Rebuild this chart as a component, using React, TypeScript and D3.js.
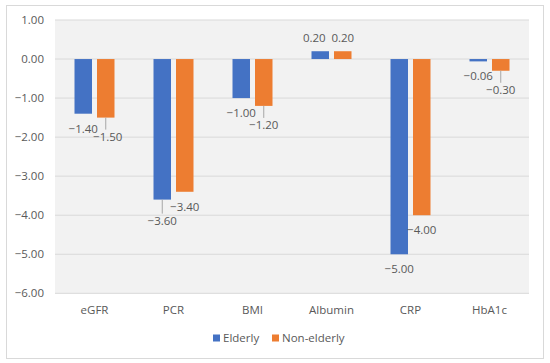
import * as d3 from "d3";

const categories = ["eGFR", "PCR", "BMI", "Albumin", "CRP", "HbA1c"];
const seriesNames = ["Elderly", "Non-elderly"];
const elderly = [-1.4, -3.6, -1.0, 0.2, -5.0, -0.06];
const nonElderly = [-1.5, -3.4, -1.2, 0.2, -4.0, -0.3];
const yTicks = [1, 0, -1, -2, -3, -4, -5, -6];
const colors = ["#4472C4", "#ED7D31"];

// label nudges (Excel moved some labels and drew leader lines)
const labelShift: { dx: number; dy: number; leader: boolean }[][] = [
  [
    { dx: 0, dy: 0, leader: false },
    { dx: 0, dy: 6, leader: true },
    { dx: 0, dy: 0, leader: false },
    { dx: -6, dy: 0, leader: false },
    { dx: 0, dy: 0, leader: false },
    { dx: 0, dy: 0, leader: false },
  ],
  [
    { dx: 2, dy: 4, leader: true },
    { dx: 0, dy: 0, leader: false },
    { dx: 0, dy: 4, leader: true },
    { dx: 0, dy: 0, leader: false },
    { dx: 0, dy: 0, leader: false },
    { dx: 0, dy: 4, leader: true },
  ],
];

const W = 550,
  H = 363;
const plot = { left: 55, right: 529, top: 20, bottom: 293.3 };
const font = "'Open Sans', 'Noto Sans', sans-serif";
const textColor = "#595959";

export default function App() {
  const x = d3
    .scaleBand<string>()
    .domain(categories)
    .range([plot.left, plot.right]);
  const y = d3.scaleLinear().domain([1, -6]).range([plot.top, plot.bottom]);
  const barW = 17.5;
  const gap = 5;
  const series = [elderly, nonElderly];

  const barX = (ci: number, si: number) =>
    (x(categories[ci]) as number) +
    x.bandwidth() / 2 +
    (si === 0 ? -gap / 2 - barW : gap / 2);

  return (
    <svg
      width={W}
      height={H}
      style={{ position: "absolute", left: 0, top: 0 }}
      fontFamily={font}
    >
      <rect x={0} y={0} width={W} height={H} fill="white" />
      <rect
        x={6.5}
        y={5.5}
        width={537}
        height={353}
        fill="white"
        stroke="#d9d9d9"
      />
      <rect
        x={plot.left}
        y={plot.top}
        width={plot.right - plot.left}
        height={plot.bottom - plot.top}
        fill="#f2f2f2"
      />
      {yTicks.map((t) => (
        <g key={t}>
          <line
            x1={plot.left}
            x2={plot.right}
            y1={y(t)}
            y2={y(t)}
            stroke="#d9d9d9"
            strokeWidth={1}
          />
          <text
            x={44}
            y={y(t)}
            dy="0.35em"
            textAnchor="end"
            fontSize={11.5}
            fill={textColor}
          >
            {t < 0 ? "\u2212" + Math.abs(t).toFixed(2) : t.toFixed(2)}
          </text>
        </g>
      ))}
      {series.map((vals, si) =>
        vals.map((v, ci) => (
          <rect
            key={`${si}-${ci}`}
            x={barX(ci, si)}
            y={Math.min(y(v), y(0))}
            width={barW}
            height={Math.abs(y(v) - y(0))}
            fill={colors[si]}
          />
        ))
      )}
      {series.map((vals, si) =>
        vals.map((v, ci) => {
          const s = labelShift[si][ci];
          const cx = barX(ci, si) + barW / 2;
          const end = y(v);
          const ly = v >= 0 ? end - 13 : end + 15 + s.dy;
          const label =
            v < 0 ? "\u2212" + Math.abs(v).toFixed(2) : v.toFixed(2);
          return (
            <g key={`l${si}-${ci}`}>
              {s.leader && (
                <line
                  x1={cx}
                  x2={cx}
                  y1={end}
                  y2={ly - 7}
                  stroke="#a6a6a6"
                  strokeWidth={1}
                />
              )}
              <text
                x={cx + s.dx}
                y={ly}
                dy="0.35em"
                textAnchor="middle"
                fontSize={11.5}
                fill={textColor}
              >
                {label}
              </text>
            </g>
          );
        })
      )}
      {categories.map((c) => (
        <text
          key={c}
          x={(x(c) as number) + x.bandwidth() / 2}
          y={310}
          dy="0.35em"
          textAnchor="middle"
          fontSize={11.5}
          fill={textColor}
        >
          {c}
        </text>
      ))}
      {seriesNames.map((n, i) => {
        const lx = i === 0 ? 213 : 272;
        return (
          <g key={n}>
            <rect x={lx} y={334.5} width={7} height={7} fill={colors[i]} />
            <text
              x={lx + 10}
              y={338}
              dy="0.35em"
              fontSize={11.5}
              fill={textColor}
            >
              {n}
            </text>
          </g>
        );
      })}
    </svg>
  );
}
